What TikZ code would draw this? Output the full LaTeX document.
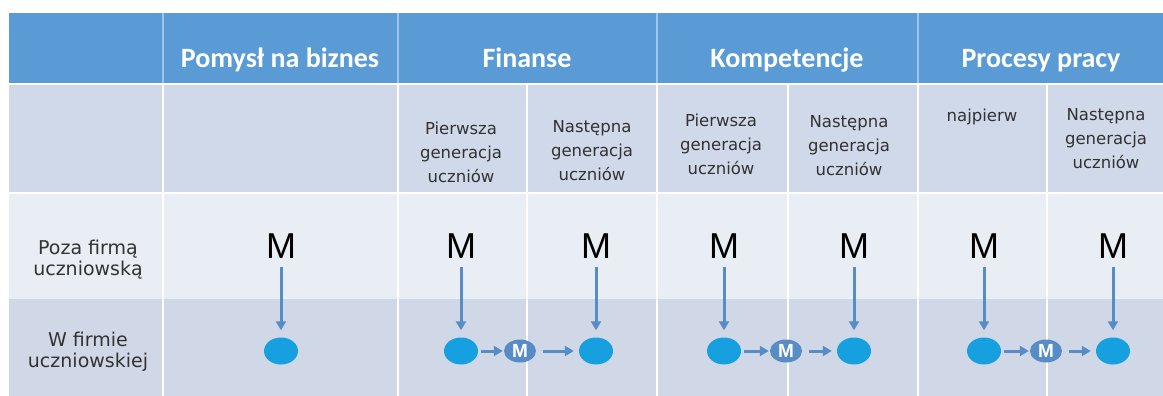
\documentclass[tikz,border=0pt]{standalone}
\usepackage{fontspec}
\setmainfont{DejaVu Sans}
\newfontfamily\headfont{Carlito}
\newfontfamily\letterfont{Liberation Sans}
\usetikzlibrary{arrows.meta, shapes.geometric}
\definecolor{headblue}{RGB}{91,155,213}
\definecolor{headline}{RGB}{160,197,232}
\definecolor{rowtwo}{RGB}{208,217,233}
\definecolor{rowthree}{RGB}{233,237,244}
\definecolor{rowfour}{RGB}{208,216,232}
\definecolor{dotblue}{RGB}{22,160,224}
\definecolor{arrowblue}{RGB}{88,140,196}
\definecolor{textgray}{RGB}{50,50,50}

\begin{document}
\begin{tikzpicture}[x=1pt, y=-1pt,
  head/.style={font=\headfont\bfseries\fontsize{28}{30}\selectfont, text=white, anchor=base},
  sub/.style={font=\fontsize{16.5}{24}\selectfont, text=textgray, align=center, inner sep=0pt},
  side/.style={font=\fontsize{19}{21}\selectfont, text=textgray, align=center, inner sep=0pt},
  letter/.style={font=\letterfont\fontsize{36}{36}\selectfont, inner sep=0pt},
  dot/.style={ellipse, fill=dotblue, minimum width=34pt, minimum height=27pt, inner sep=0pt},
  mdot/.style={ellipse, fill=arrowblue, minimum width=32pt, minimum height=23pt, inner sep=0pt,
    text=white, font=\letterfont\bfseries\fontsize{19}{19}\selectfont},
  link/.style={draw=arrowblue, line width=3pt, -{Triangle[length=9pt, width=10pt]}}]
\useasboundingbox (0,0) rectangle (1163,396);
\fill[white] (0,0) rectangle (1163,396);
\fill[headblue] (9,13) rectangle (1163,84);
\fill[rowtwo] (9,84) rectangle (1163,193);
\fill[rowthree] (9,193) rectangle (1163,299);
\fill[rowfour] (9,299) rectangle (1163,396);
\foreach \x in {163,398,657,918}
  \draw[headline, line width=2pt] (\x,13) -- (\x,84);
\foreach \x in {163,398,527,657,788,918,1047}
  \draw[white, line width=1.5pt] (\x,84) -- (\x,396);
\draw[white, line width=1.5pt] (9,84) -- (1163,84) (9,193) -- (1163,193);

\node[head] (pomysl) at (280,68) {Pomysł na biznes};
\node[head] (finanse) at (527,68) {Finanse};
\node[head] (kompetencje) at (787,68) {Kompetencje};
\node[head] (procesy) at (1041,68) {Procesy pracy};

\node[sub] (FP) at (461,152) {Pierwsza\\generacja\\uczniów};
\node[sub] (FN) at (592,151) {Następna\\generacja\\uczniów};
\node[sub] (KP) at (721,144) {Pierwsza\\generacja\\uczniów};
\node[sub] (KN) at (849,146) {Następna\\generacja\\uczniów};
\node[sub] (PP) at (982,117) {najpierw};
\node[sub] (PN) at (1106,139) {Następna\\generacja\\uczniów};

\node[side] (poza) at (88,260) {Poza firmą\\uczniowską};
\node[side] (wfirmie) at (88,352) {W firmie\\uczniowskiej};

\node[letter] (A) at (281,246) {M};
\node[letter] (B) at (461,246) {M};
\node[letter] (C) at (596,246) {M};
\node[letter] (D) at (724,246) {M};
\node[letter] (E) at (854,246) {M};
\node[letter] (F) at (984,246) {M};
\node[letter] (G) at (1113,246) {M};

\node[dot] (a) at (281,351) {};
\node[dot] (b) at (461,351) {};
\node[dot] (c) at (596,351) {};
\node[dot] (d) at (724,351) {};
\node[dot] (e) at (854,351) {};
\node[dot] (f) at (984,351) {};
\node[dot] (g) at (1113,351) {};

\node[mdot] (bc) at (520,351) {M};
\node[mdot] (de) at (786,351) {M};
\node[mdot] (fg) at (1046,351) {M};

\foreach \u/\l in {A/a,B/b,C/c,D/d,E/e,F/f,G/g}
  \draw[link, shorten <=8pt, shorten >=7pt] (\u) -- (\l);
\foreach \s/\m/\t in {b/bc/c,d/de/e,f/fg/g}{
  \draw[link, shorten <=3pt, shorten >=1pt] (\s) -- (\m);
  \draw[link, shorten <=7pt, shorten >=5pt] (\m) -- (\t);
}
\end{tikzpicture}
\end{document}
